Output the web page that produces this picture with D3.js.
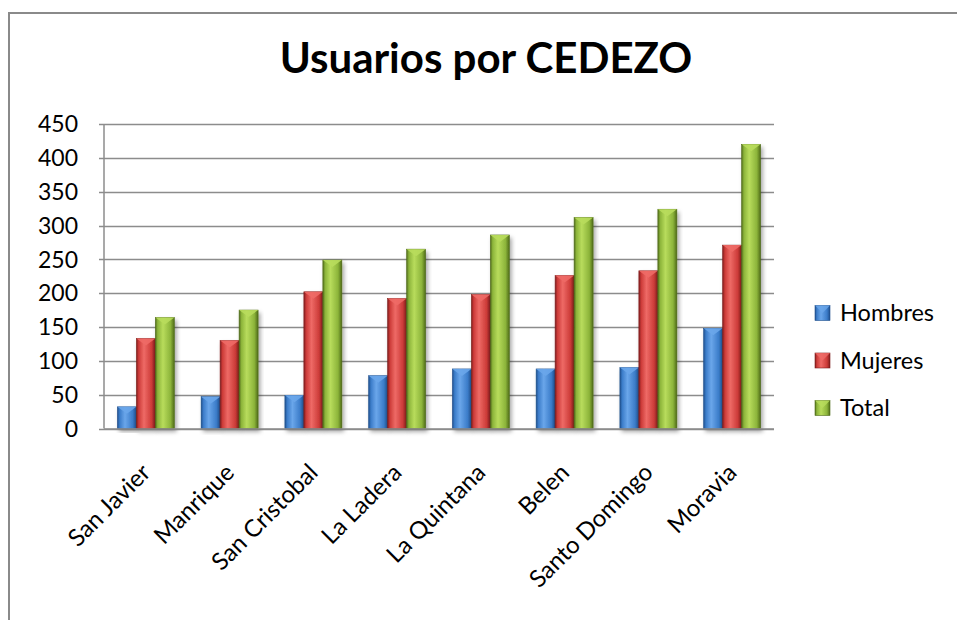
<!DOCTYPE html>
<html>
<head>
<meta charset="utf-8">
<script src="https://cdn.jsdelivr.net/npm/d3@7"></script>
<style>
  body { margin: 0; background: #fff; }
  svg text { font-family: Lato, "Open Sans", sans-serif; fill: #000; }
</style>
</head>
<body>
<svg id="chart" width="957" height="620"></svg>
<script>
var categories = ["San Javier", "Manrique", "San Cristobal", "La Ladera", "La Quintana", "Belen", "Santo Domingo", "Moravia"];
var hombres = [32, 47, 49, 78, 88, 88, 90, 148];
var mujeres = [133, 130, 202, 192, 198, 226, 233, 271];
var total = [164, 175, 249, 265, 286, 312, 324, 420];
var seriesNames = ["Hombres", "Mujeres", "Total"];
var yTicks = [0, 50, 100, 150, 200, 250, 300, 350, 400, 450];

var seriesValues = [hombres, mujeres, total];
var colors = {
  Hombres: {light: "#6aa6ea", mid: "#3b7cc9", dark: "#1f4f8c"},
  Mujeres: {light: "#ee6a66", mid: "#cc3b38", dark: "#7e1d1c"},
  Total:   {light: "#b8dc5c", mid: "#8cb43a", dark: "#4f6b18"}
};

var margin = {top: 124, left: 104, right: 183, bottom: 191};
var W = 957, H = 620;
var svg = d3.select("#chart");

// outer border of the chart object
svg.append("rect")
  .attr("x", 9).attr("y", 13)
  .attr("width", W).attr("height", H)
  .attr("fill", "none")
  .attr("stroke", "#8a8a8a")
  .attr("stroke-width", 2);

var x = d3.scaleBand()
  .domain(categories)
  .range([margin.left, W - margin.right])
  .paddingInner(0.32)
  .paddingOuter(0.16);
var xs = d3.scaleBand()
  .domain(seriesNames)
  .range([0, x.bandwidth()]);
var y = d3.scaleLinear()
  .domain([0, 450])
  .range([H - margin.bottom - 0.5, margin.top]);

var defs = svg.append("defs");
seriesNames.forEach(function(s) {
  var c = colors[s];
  var g = defs.append("linearGradient")
    .attr("id", "grad_" + s)
    .attr("x1", "0").attr("x2", "1").attr("y1", "0").attr("y2", "0");
  g.append("stop").attr("offset", "0").attr("stop-color", c.dark);
  g.append("stop").attr("offset", "0.12").attr("stop-color", c.mid);
  g.append("stop").attr("offset", "0.4").attr("stop-color", c.light);
  g.append("stop").attr("offset", "0.8").attr("stop-color", c.mid);
  g.append("stop").attr("offset", "1").attr("stop-color", c.dark);
});
var shadow = defs.append("filter").attr("id", "shadow")
  .attr("x", "-30%").attr("y", "-10%").attr("width", "160%").attr("height", "130%");
shadow.append("feDropShadow")
  .attr("dx", 2).attr("dy", 3).attr("stdDeviation", 2)
  .attr("flood-color", "#000").attr("flood-opacity", 0.35);

// gridlines
svg.append("g")
  .attr("class", "grid")
  .selectAll("line")
  .data(yTicks)
  .enter().append("line")
    .attr("x1", margin.left - 5)
    .attr("x2", W - margin.right)
    .attr("y1", function(d) { return Math.round(y(d)) + 0.5; })
    .attr("y2", function(d) { return Math.round(y(d)) + 0.5; })
    .attr("stroke", "#8c8c8c")
    .attr("stroke-width", 1.5);

// left axis line
svg.append("line")
  .attr("x1", margin.left).attr("x2", margin.left)
  .attr("y1", y(450)).attr("y2", y(0))
  .attr("stroke", "#8c8c8c")
  .attr("stroke-width", 1.5);

// y tick labels
svg.append("g")
  .selectAll("text")
  .data(yTicks)
  .enter().append("text")
    .attr("x", 78)
    .attr("y", function(d) { return y(d); })
    .attr("dy", "0.36em")
    .attr("text-anchor", "end")
    .attr("font-size", 23)
    .text(function(d) { return d; });

// bars
var groups = svg.append("g")
  .attr("class", "bars")
  .selectAll("g")
  .data(categories)
  .enter().append("g")
    .attr("transform", function(d) { return "translate(" + x(d) + ",0)"; });

groups.each(function(cat, i) {
  var g = d3.select(this);
  seriesNames.forEach(function(s, j) {
    var v = seriesValues[j][i];
    var bx = xs(s), bw = xs.bandwidth();
    var top = y(v), bottom = y(0);
    g.append("rect")
      .attr("x", bx).attr("y", top)
      .attr("width", bw).attr("height", bottom - top)
      .attr("fill", "url(#grad_" + s + ")")
      .attr("stroke", colors[s].dark)
      .attr("stroke-width", 0.6)
      .attr("filter", "url(#shadow)");
    // bevelled top
    g.append("path")
      .attr("d", "M" + bx + "," + top + "L" + (bx + bw) + "," + top +
        "L" + (bx + bw / 2) + "," + (top + 7) + "Z")
      .attr("fill", colors[s].light)
      .attr("opacity", 0.9);
  });
});

// bottom axis line
svg.append("line")
  .attr("x1", margin.left).attr("x2", W - margin.right)
  .attr("y1", y(0) + 0.5).attr("y2", y(0) + 0.5)
  .attr("stroke", "#8c8c8c")
  .attr("stroke-width", 1.5);

// x labels
svg.append("g")
  .selectAll("text")
  .data(categories)
  .enter().append("text")
    .attr("transform", function(d) {
      return "translate(" + (x(d) + x.bandwidth() / 2 + 6) + ",474) rotate(-45)";
    })
    .attr("text-anchor", "end")
    .attr("font-size", 24)
    .text(function(d) { return d; });

// title
svg.append("text")
  .attr("x", 486)
  .attr("y", 73)
  .attr("text-anchor", "middle")
  .attr("font-size", 42)
  .attr("font-weight", "bold")
  .text("Usuarios por CEDEZO");

// legend
var legend = svg.append("g")
  .selectAll("g")
  .data(seriesNames)
  .enter().append("g")
    .attr("transform", function(d, i) { return "translate(815," + (313 + i * 47.5) + ")"; });
legend.append("rect")
  .attr("x", 0).attr("y", -7.5)
  .attr("width", 15).attr("height", 15)
  .attr("fill", function(d) { return "url(#grad_" + d + ")"; })
  .attr("stroke", function(d) { return colors[d].dark; })
  .attr("stroke-width", 0.6);
legend.append("path")
  .attr("d", "M0,-7.5L15,-7.5L7.5,0Z")
  .attr("fill", function(d) { return colors[d].light; })
  .attr("opacity", 0.8);
legend.append("text")
  .attr("x", 25)
  .attr("y", 0)
  .attr("dy", "0.36em")
  .attr("font-size", 23.5)
  .text(function(d) { return d; });
</script>
</body>
</html>
